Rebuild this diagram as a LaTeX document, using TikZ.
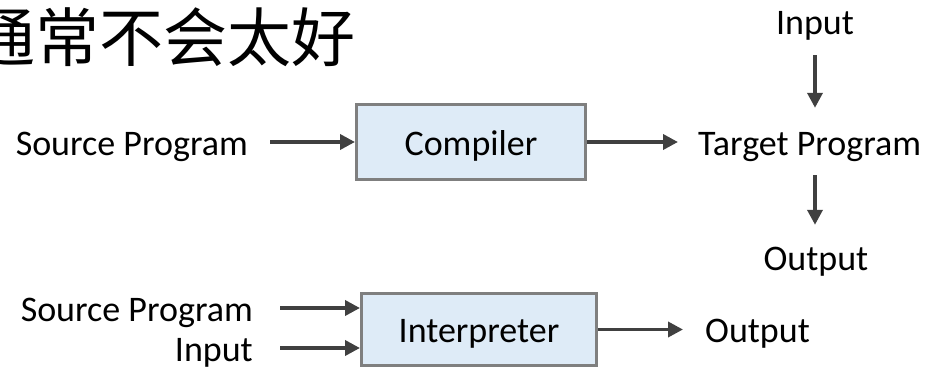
\documentclass[tikz,border=0pt]{standalone}
\usepackage{fontspec}
\setmainfont{Carlito}
\newfontfamily\cjk{Noto Sans CJK SC}
\usetikzlibrary{arrows.meta}
\definecolor{boxfill}{HTML}{DEEBF7}
\definecolor{boxline}{HTML}{7F7F7F}
\definecolor{arrowgray}{HTML}{404040}
\begin{document}
\begin{tikzpicture}[x=1pt, y=-1pt,
  font=\fontsize{36}{43}\selectfont,
  lbl/.style={inner sep=0pt, text height=30pt, text depth=4pt},
  proc/.style={lbl, draw=boxline, fill=boxfill, line width=3pt},
  arr/.style={draw=arrowgray, line width=3.6pt, -{Triangle[length=15pt,width=15pt]}}]
\useasboundingbox (0,0) rectangle (930,369);

% heading
\node[anchor=west, inner sep=0pt, font=\cjk\fontsize{64}{70}\selectfont] (title) at (-29,37) {通常不会太好};

% compiler path
\node[lbl, anchor=east] (src1) at (248,142) {Source Program};
\node[proc, minimum width=229pt, minimum height=74pt] (comp) at (471,142) {Compiler};
\node[lbl, anchor=west] (tgt) at (698,142) {Target Program};
\node[lbl] (in1) at (815,22) {Input};
\node[lbl] (out1) at (816,257) {Output};

\draw[arr] ([xshift=22pt]src1.east) -- (comp.west);
\draw[arr] (comp.east) -- ([xshift=-20pt]tgt.west);
\draw[arr, shorten <=16pt, shorten >=17pt] (in1.south) -- (in1.south |- tgt.north);
\draw[arr, shorten <=16pt, shorten >=15pt] (in1.south |- tgt.south) -- (in1.south |- out1.north);

% interpreter path
\node[lbl, anchor=east] (src2) at (253,308) {Source Program};
\node[lbl, anchor=east] (inp2) at (253,348) {Input};
\node[proc, minimum width=235pt, minimum height=72pt] (interp) at (479,329.5) {Interpreter};
\node[lbl, anchor=west] (out2) at (705,329.5) {Output};

\draw[arr] ([xshift=27pt]src2.east) -- (interp.west |- src2.east);
\draw[arr] ([xshift=27pt]inp2.east) -- (interp.west |- inp2.east);
\draw[arr] (interp.east) -- ([xshift=-22pt]out2.west);
\end{tikzpicture}
\end{document}
